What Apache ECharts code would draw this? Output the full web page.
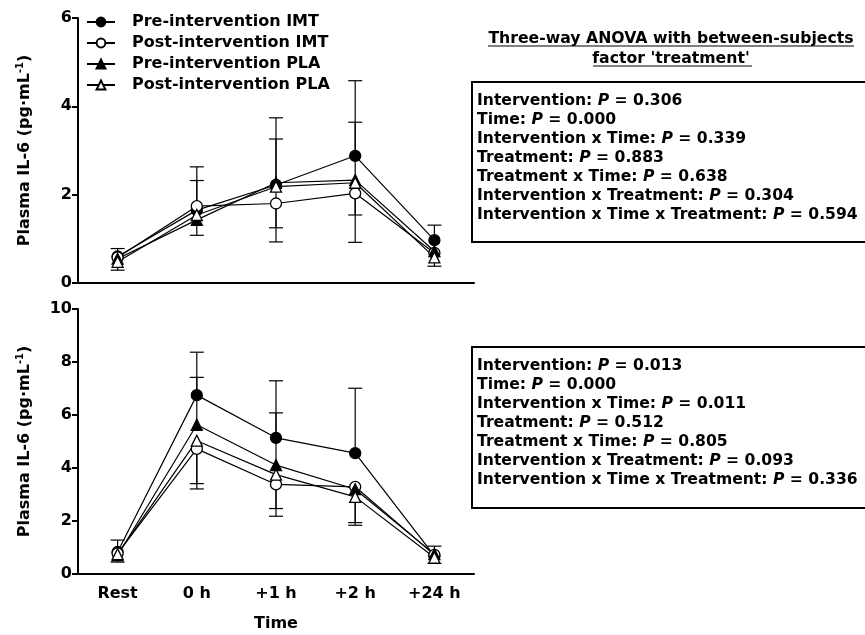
<!DOCTYPE html>
<html><head><meta charset="utf-8">
<script src="https://cdn.jsdelivr.net/npm/echarts@6/dist/echarts.min.js"></script>
<style>html,body{margin:0;padding:0;background:#fff}#c{width:865px;height:635px}</style>
</head><body><div id="c"></div>
<script>
const categories = ['Rest', '0 h', '+1 h', '+2 h', '+24 h'];
const seriesNames = ['Pre-intervention IMT', 'Post-intervention IMT', 'Pre-intervention PLA', 'Post-intervention PLA'];

// Top panel means
const topPreIMT  = [0.60, 1.65, 2.22, 2.88, 0.97];
const topPostIMT = [0.58, 1.74, 1.80, 2.03, 0.68];
const topPrePLA  = [0.55, 1.43, 2.27, 2.33, 0.72];
const topPostPLA = [0.48, 1.54, 2.18, 2.27, 0.58];
// Top panel error-bar ends (upper / lower), null = not shown
const topPreIMTHi  = [0.78, 2.32, 3.26, 4.58, 1.31];
const topPostIMTHi = [null, 2.63, null, null, null];
const topPrePLAHi  = [null, null, 3.74, null, null];
const topPostPLAHi = [null, null, null, 3.64, null];
const topPreIMTLo  = [null, null, null, null, null];
const topPostIMTLo = [null, null, 0.93, 0.92, null];
const topPrePLALo  = [null, 1.08, null, 1.54, null];
const topPostPLALo = [0.29, null, 1.25, null, 0.38];

// Bottom panel means
const botPreIMT  = [0.83, 6.75, 5.14, 4.56, 0.68];
const botPostIMT = [0.78, 4.72, 3.38, 3.29, 0.72];
const botPrePLA  = [0.70, 5.63, 4.11, 3.20, 0.75];
const botPostPLA = [0.75, 5.03, 3.75, 2.91, 0.62];
const botPreIMTHi  = [1.28, 8.37, 7.29, 7.01, 1.05];
const botPostIMTHi = [null, null, null, null, null];
const botPrePLAHi  = [null, 7.42, 6.08, null, null];
const botPostPLAHi = [null, null, null, null, null];
const botPreIMTLo  = [null, null, null, null, null];
const botPostIMTLo = [null, 3.21, 2.18, null, null];
const botPrePLALo  = [0.45, null, null, 1.94, null];
const botPostPLALo = [null, 3.41, 2.47, 1.84, 0.40];

const topTicks = [0, 2, 4, 6];
const botTicks = [0, 2, 4, 6, 8, 10];

const anovaTitle = ["Three-way ANOVA with between-subjects", "factor 'treatment'"];
const anovaTop = [
  ['Intervention: ', '0.306'],
  ['Time: ', '0.000'],
  ['Intervention x Time: ', '0.339'],
  ['Treatment: ', '0.883'],
  ['Treatment x Time: ', '0.638'],
  ['Intervention x Treatment: ', '0.304'],
  ['Intervention x Time x Treatment: ', '0.594']
];
const anovaBot = [
  ['Intervention: ', '0.013'],
  ['Time: ', '0.000'],
  ['Intervention x Time: ', '0.011'],
  ['Treatment: ', '0.512'],
  ['Treatment x Time: ', '0.805'],
  ['Intervention x Treatment: ', '0.093'],
  ['Intervention x Time x Treatment: ', '0.336']
];

const FONT = '"DejaVu Sans", Verdana, sans-serif';
const symbols = ['circle', 'circle', 'triangle', 'triangle'];
const fills = ['#000', '#fff', '#000', '#fff'];

const chart = echarts.init(document.getElementById('c'));

function axesFor(idx, max, showLabels) {
  const x = {
    type: 'category', gridIndex: idx, data: categories, boundaryGap: true,
    axisLine: {lineStyle: {color: '#000', width: 2}},
    axisTick: {alignWithLabel: true, length: 6, lineStyle: {color: '#000', width: 2}},
    axisLabel: {show: showLabels, color: '#000', fontWeight: 'bold', fontSize: 16, fontFamily: FONT, margin: 12},
    name: showLabels ? 'Time' : '', nameLocation: 'middle', nameGap: 42,
    nameTextStyle: {color: '#000', fontWeight: 'bold', fontSize: 16, fontFamily: FONT}
  };
  const y = {
    type: 'value', gridIndex: idx, min: 0, max: max, interval: 2,
    axisLine: {show: true, lineStyle: {color: '#000', width: 2}},
    axisTick: {show: true, length: 6, lineStyle: {color: '#000', width: 2}},
    splitLine: {show: false},
    axisLabel: {color: '#000', fontWeight: 'bold', fontSize: 16, fontFamily: FONT, margin: 6},
    name: 'Plasma IL-6 (pg·mL{sup|-1})', nameLocation: 'middle', nameGap: 44,
    nameTextStyle: {color: '#000', fontWeight: 'bold', fontSize: 16, fontFamily: FONT,
      rich: {sup: {fontSize: 10, fontWeight: 'bold', fontFamily: FONT, color: '#000', padding: [0, 0, 9, 0]}}}
  };
  return [x, y];
}
const [x0, y0] = axesFor(0, 6, false);
const [x1, y1] = axesFor(1, 10, true);

function lineSeries(name, data, k, idx) {
  return {
    type: 'line', name: name, xAxisIndex: idx, yAxisIndex: idx, data: data,
    symbol: symbols[k], symbolSize: 11,
    lineStyle: {color: '#000', width: 1.2},
    itemStyle: {color: fills[k], borderColor: '#000', borderWidth: 1.3},
    z: 5, animation: false
  };
}
function errSeries(means, his, los, idx) {
  const data = [];
  categories.forEach((c, i) => {
    if (his[i] != null) data.push([i, means[i], his[i]]);
    if (los[i] != null) data.push([i, means[i], los[i]]);
  });
  return {
    type: 'custom', xAxisIndex: idx, yAxisIndex: idx, data: data, z: 3, animation: false,
    silent: true,
    renderItem: function (params, api) {
      const p0 = api.coord([api.value(0), api.value(1)]);
      const p1 = api.coord([api.value(0), api.value(2)]);
      const hw = 7;
      return {type: 'group', children: [
        {type: 'line', shape: {x1: p0[0], y1: p0[1], x2: p1[0], y2: p1[1]}, style: {stroke: '#000', lineWidth: 1.2}},
        {type: 'line', shape: {x1: p1[0] - hw, y1: p1[1], x2: p1[0] + hw, y2: p1[1]}, style: {stroke: '#000', lineWidth: 1.2}}
      ]};
    }
  };
}

const topMeans = [topPreIMT, topPostIMT, topPrePLA, topPostPLA];
const topHi = [topPreIMTHi, topPostIMTHi, topPrePLAHi, topPostPLAHi];
const topLo = [topPreIMTLo, topPostIMTLo, topPrePLALo, topPostPLALo];
const botMeans = [botPreIMT, botPostIMT, botPrePLA, botPostPLA];
const botHi = [botPreIMTHi, botPostIMTHi, botPrePLAHi, botPostPLAHi];
const botLo = [botPreIMTLo, botPostIMTLo, botPrePLALo, botPostPLALo];

const series = [];
for (let k = 0; k < 4; k++) {
  series.push(errSeries(topMeans[k], topHi[k], topLo[k], 0));
  series.push(errSeries(botMeans[k], botHi[k], botLo[k], 1));
}
for (let k = 0; k < 4; k++) series.push(lineSeries(seriesNames[k], topMeans[k], k, 0));
for (let k = 0; k < 4; k++) series.push(lineSeries(seriesNames[k], botMeans[k], k, 1));

const SF = 15.6;
function statBlock(lines, top) {
  return lines.map((l, i) => ({
    type: 'text', x: 477, y: top + i * 19,
    style: {
      text: l[0] + '{i|P} = ' + l[1],
      font: 'bold ' + SF + 'px ' + FONT, fill: '#000',
      rich: {i: {font: 'italic bold ' + SF + 'px ' + FONT, fill: '#000'}}
    }
  }));
}

const graphic = [
  {type: 'text', x: 671, y: 31, style: {text: anovaTitle[0], font: 'bold 15.7px ' + FONT, fill: '#000', textAlign: 'center'}},
  {type: 'text', x: 671, y: 51, style: {text: anovaTitle[1], font: 'bold 15.7px ' + FONT, fill: '#000', textAlign: 'center'}},
  {type: 'line', shape: {x1: 488, y1: 46, x2: 854, y2: 46}, style: {stroke: '#000', lineWidth: 1}},
  {type: 'line', shape: {x1: 593, y1: 66, x2: 752, y2: 66}, style: {stroke: '#000', lineWidth: 1}},
  {type: 'rect', shape: {x: 472, y: 82, width: 420, height: 160}, style: {fill: 'none', stroke: '#000', lineWidth: 2}},
  {type: 'rect', shape: {x: 472, y: 347, width: 420, height: 161}, style: {fill: 'none', stroke: '#000', lineWidth: 2}}
].concat(statBlock(anovaTop, 93)).concat(statBlock(anovaBot, 358));

chart.setOption({
  animation: false,
  backgroundColor: '#fff',
  grid: [
    {left: 78, width: 396, top: 18, height: 265},
    {left: 78, width: 396, top: 309, height: 265}
  ],
  xAxis: [x0, x1],
  yAxis: [y0, y1],
  legend: {
    data: seriesNames, orient: 'vertical', left: 81, top: 9, itemGap: 5,
    itemWidth: 28, itemHeight: 11,
    textStyle: {color: '#000', fontWeight: 'bold', fontSize: 16, fontFamily: FONT, padding: [0, 0, 0, 12]},
    selectedMode: false
  },
  series: series,
  graphic: graphic
});
</script>
</body></html>
